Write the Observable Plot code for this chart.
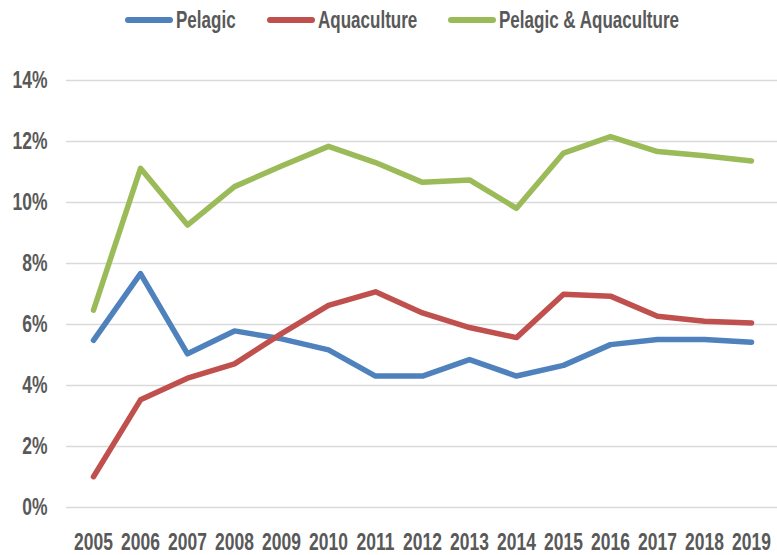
<!DOCTYPE html>
<html>
<head>
<meta charset="utf-8">
<script src="https://cdn.jsdelivr.net/npm/d3@7"></script>
<script src="https://cdn.jsdelivr.net/npm/@observablehq/plot@0.6"></script>
<style>
  body { margin: 0; background: #fff; }
  #chart { width: 777px; font-family: "Liberation Sans", Arial, sans-serif; font-weight: bold; color: #595959; }
  .legend { height: 40px; display: flex; align-items: center; padding-left: 125px; box-sizing: border-box; font-size: 23px; white-space: nowrap; }
  .item { display: flex; align-items: center; margin-right: 31px; }
  .sw { width: 48px; height: 6px; border-radius: 3px; margin-right: 3px; flex: none; }
  .txt { display: inline-block; transform: scaleX(0.74); transform-origin: left center; }
</style>
</head>
<body>
<div id="chart"></div>
<script>
const years = [2005, 2006, 2007, 2008, 2009, 2010, 2011, 2012, 2013, 2014, 2015, 2016, 2017, 2018, 2019];
const pelagic = [5.48, 7.67, 5.04, 5.79, 5.53, 5.17, 4.31, 4.31, 4.85, 4.31, 4.66, 5.34, 5.51, 5.51, 5.42];
const aquaculture = [1.01, 3.53, 4.24, 4.71, 5.70, 6.63, 7.07, 6.38, 5.90, 5.57, 6.99, 6.93, 6.27, 6.11, 6.05];
const combined = [6.47, 11.12, 9.26, 10.52, 11.20, 11.84, 11.31, 10.66, 10.74, 9.81, 11.62, 12.16, 11.67, 11.53, 11.36];
const seriesNames = ["Pelagic", "Aquaculture", "Pelagic & Aquaculture"];
const seriesColors = ["#4F81BD", "#C0504D", "#9BBB59"];
const yTicks = [0, 0.02, 0.04, 0.06, 0.08, 0.10, 0.12, 0.14];

const seriesValues = [pelagic, aquaculture, combined];
const data = [];
seriesNames.forEach((name, i) => {
  years.forEach((yr, j) => data.push({series: name, year: yr, value: seriesValues[i][j] / 100}));
});

const chart = document.getElementById("chart");
const squeeze = 0.74;

const legend = document.createElement("div");
legend.className = "legend";
chart.appendChild(legend);
seriesNames.forEach((name, i) => {
  const it = document.createElement("div");
  it.className = "item";
  const sw = document.createElement("div");
  sw.className = "sw";
  sw.style.background = seriesColors[i];
  const tx = document.createElement("span");
  tx.className = "txt";
  tx.textContent = name;
  it.appendChild(sw);
  it.appendChild(tx);
  legend.appendChild(it);
  tx.style.marginRight = (-(1 - squeeze) * tx.offsetWidth) + "px";
});

const plot = Plot.plot({
  width: 777,
  height: 515,
  marginTop: 40,
  marginBottom: 48,
  marginLeft: 66,
  marginRight: 0,
  style: { fontSize: "23px", fontFamily: "inherit", fontWeight: "bold", color: "#595959", background: "#fff", overflow: "visible" },
  x: { type: "point", domain: years, padding: 0.5, label: null },
  y: { domain: [0, 0.14], label: null },
  color: { domain: seriesNames, range: seriesColors },
  marks: [
    Plot.gridY(yTicks, { stroke: "#D9D9D9", strokeOpacity: 1, strokeWidth: 1.6 }),
    Plot.axisY({ ticks: yTicks, tickFormat: d3.format(".0%"), tickSize: 0, tickPadding: 19, label: null }),
    Plot.axisX({ tickSize: 0, tickPadding: 26, tickFormat: d => String(d), label: null }),
    Plot.line(data, { x: "year", y: "value", z: "series", stroke: "series", strokeWidth: 5.5, strokeLinecap: "round", strokeLinejoin: "round" })
  ]
});
chart.appendChild(plot);

d3.select(plot).selectAll("text").each(function () {
  const w = this.getComputedTextLength();
  this.setAttribute("textLength", (w * 0.76).toFixed(2));
  this.setAttribute("lengthAdjust", "spacingAndGlyphs");
});
</script>
</body>
</html>
